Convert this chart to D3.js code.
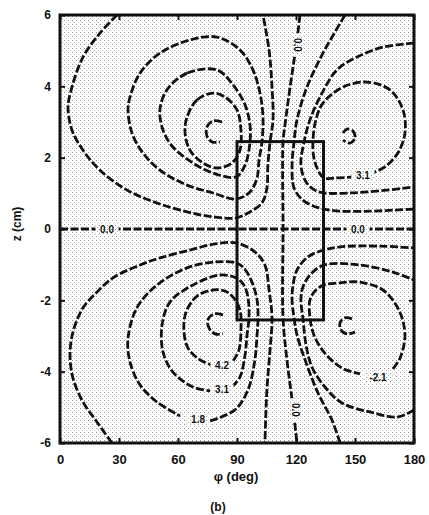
<!DOCTYPE html>
<html>
<head>
<meta charset="utf-8">
<script src="https://cdn.jsdelivr.net/npm/d3@7"></script>
<style>
  body { margin: 0; background: #fff; }
  text { font-family: "Liberation Sans", Arial, sans-serif; font-weight: bold; fill: #111; }
</style>
</head>
<body>
<svg id="chart" width="429" height="515"></svg>
<script>
'use strict';

// axis ticks
const phiTicks = [0, 30, 60, 90, 120, 150, 180];
const zTicks = [-6, -4, -2, 0, 2, 4, 6];

// the rectangle (phi range, z range)
const boxPhi = [90, 134];
const boxZ = [-2.55, 2.45];

// contour lines, [phi (deg), z (cm)]
// upper left lobe
const ul1 = [[29.0,6.0],[20.3,5.49],[11.7,4.82],[6.1,3.98],[4.1,3.42],[6.1,2.77],[11.7,2.21],[20.3,1.65],[34.1,1.09],[49.3,0.73],[64.6,0.48],[77.8,0.34],[89.5,0.31],[96.6,0.48],[102.7,0.73],[105.2,1.15],[105.7,1.79],[106.8,2.44],[108.3,3.06],[107.8,3.98],[106.3,5.02],[103.2,6.0]];
const ul2 = [[66.1,5.30],[50.8,4.93],[40.7,4.37],[35.6,3.70],[34.6,3.34],[36.6,2.69],[42.2,2.13],[50.8,1.65],[64.6,1.23],[77.8,1.01],[89.5,0.84],[96.6,1.04],[100.2,1.43],[101.2,1.93],[102.7,2.44],[103.2,3.14],[101.7,3.81],[98.1,4.46],[91.5,5.02],[79.8,5.38]];
const ul3 = [[79.8,4.46],[64.6,4.37],[54.4,3.90],[50.8,3.34],[52.4,2.77],[57.4,2.30],[67.6,1.85],[77.8,1.57],[89.5,1.46],[94.1,1.79],[96.6,2.44],[96.6,2.92],[94.1,3.48],[88.0,4.04]];
const ul4 = [[77.8,3.81],[69.7,3.62],[64.6,3.14],[63.6,2.69],[66.1,2.21],[72.7,1.85],[79.8,1.71],[87.4,1.85],[91.5,2.21],[92.0,2.77],[90.0,3.34],[83.9,3.70]];
const ul5 = [[82.4,3.00],[77.8,3.03],[74.7,2.86],[74.7,2.61],[77.3,2.44],[81.3,2.44]];
// upper right lobe
const ur1 = [[144.9,6.0],[139.8,5.52],[133.7,4.93],[125.6,3.98],[120.5,3.06],[119.0,2.44],[118.0,1.79],[119.0,1.15],[123.5,0.81],[129.1,0.64],[134.2,0.56],[142.4,0.50],[157.6,0.50],[170.3,0.53],[180,0.56]];
const ur2 = [[180,5.21],[164.2,5.10],[151.0,4.82],[140.8,4.46],[132.2,3.70],[127.1,3.06],[124.1,2.44],[122.5,1.79],[125.1,1.32],[129.6,1.09],[134.2,1.01],[147.4,1.01],[162.7,1.07],[180,1.18]];
const ur3 = [[150.0,1.46],[139.8,1.43],[134.2,1.43],[131.2,1.65],[129.1,1.99],[128.6,2.44],[130.1,3.06],[133.7,3.53],[143.9,3.98],[156.1,4.12],[167.8,3.90],[174.4,3.34],[175.4,2.69],[171.8,2.13],[165.2,1.74],[158.6,1.57]];
const ur4 = [[143.9,2.69],[145.9,2.80],[148.9,2.75],[150.0,2.55],[147.4,2.41],[143.9,2.49]];
// lower left lobe
const ll1 = [[26.4,-6.0],[18.8,-5.41],[11.7,-4.85],[6.6,-4.18],[5.1,-3.53],[6.6,-2.89],[11.7,-2.21],[18.8,-1.77],[26.9,-1.37],[40.7,-1.01],[50.8,-0.81],[66.1,-0.59],[78.8,-0.42],[89.5,-0.39],[99.1,-0.64],[104.2,-1.01],[106.3,-1.71],[107.8,-2.49],[106.8,-3.39],[105.2,-4.51],[104.2,-6.0]];
const ll2 = [[76.3,-5.38],[89.0,-5.07],[95.6,-4.51],[99.1,-3.67],[100.2,-2.97],[100.7,-2.49],[100.2,-1.99],[97.6,-1.49],[93.5,-1.09],[89.5,-0.95],[79.8,-0.92],[64.6,-1.09],[49.3,-1.57],[39.1,-2.21],[34.6,-3.06],[35.6,-3.73],[40.7,-4.37],[49.3,-4.85],[61.0,-5.24]];
const ll3 = [[87.4,-4.43],[91.5,-4.15],[94.1,-3.53],[95.1,-2.97],[96.1,-2.49],[95.6,-1.93],[93.5,-1.57],[89.5,-1.37],[81.3,-1.29],[67.6,-1.57],[55.9,-2.05],[51.9,-2.69],[52.4,-3.45],[57.4,-4.01],[67.6,-4.43],[76.3,-4.54]];
const ll4 = [[88.0,-3.70],[91.0,-3.39],[92.0,-2.83],[91.5,-2.27],[88.0,-1.91],[83.9,-1.74],[77.8,-1.71],[69.7,-1.88],[64.1,-2.33],[63.0,-2.83],[65.1,-3.34],[71.2,-3.67],[76.8,-3.81]];
const ll5 = [[82.9,-2.41],[78.3,-2.38],[75.2,-2.55],[75.8,-2.78],[78.8,-2.94],[82.9,-2.94]];
// lower right lobe
const lr1 = [[142.4,-6.0],[138.3,-5.36],[131.2,-4.60],[124.6,-3.67],[120.5,-2.97],[119.0,-2.49],[118.0,-1.99],[118.5,-1.57],[120.5,-1.15],[126.1,-0.78],[134.2,-0.59],[142.4,-0.50],[162.7,-0.48],[180,-0.53]];
const lr2 = [[180,-5.07],[171.8,-5.27],[157.6,-5.13],[143.4,-4.88],[134.7,-4.43],[128.1,-3.87],[125.1,-3.25],[123.5,-2.49],[122.5,-1.99],[123.5,-1.63],[127.1,-1.29],[134.2,-1.01],[152.5,-1.01],[169.3,-1.21],[180,-1.43]];
const lr3 = [[169.3,-3.92],[172.9,-3.62],[175.4,-2.97],[172.3,-2.27],[164.2,-1.71],[152.5,-1.49],[142.4,-1.51],[134.2,-1.57],[130.1,-1.71],[127.1,-1.99],[127.1,-2.49],[129.1,-2.97],[134.2,-3.45],[143.4,-3.90],[152.5,-4.06]];
const lr4 = [[148.5,-2.52],[144.9,-2.49],[142.4,-2.63],[142.9,-2.83],[145.9,-2.94],[150.0,-2.89]];
// zero contours
const zeroH = [[0,0],[180,0]];
const zeroV = [[122.0,6.0],[120.5,5.30],[117.0,3.98],[114.4,2.92],[113.4,2.44],[113.4,0],[113.4,-2.49],[115.4,-3.67],[118.0,-4.79],[120.5,-6.0]];

const openLines = [ul1, ul5, ur1, ur2, ur3, ur4, ll1, ll2, ll3, ll4, ll5, lr1, lr2, lr3, lr4, zeroH, zeroV];
const closedLines = [ul2, ul3, ul4];

// contour level labels
const labelText = ['0.0', '0.0', '0.0', '0.0', '3.1', '-2.1', '4.2', '3.1', '1.8'];
const labelPhi  = [23.9, 151.5, 121.0, 119.5, 154.0, 161.7, 82.4, 82.4, 70.2];
const labelZ    = [0, 0, 5.16, -5.07, 1.51, -4.15, -3.84, -4.51, -5.35];
const labelVert = [false, false, true, true, false, false, false, false, false];

const svg = d3.select('#chart');
const margin = {left: 60, right: 15, top: 15, bottom: 72};
const W = 429, H = 515;

const x = d3.scaleLinear().domain([0, 180]).range([margin.left, W - margin.right]);
const y = d3.scaleLinear().domain([-6, 6]).range([H - margin.bottom, margin.top]);

// halftone-ish stipple for the plot area
const defs = svg.append('defs');
const pat = defs.append('pattern')
  .attr('id', 'stip')
  .attr('patternUnits', 'userSpaceOnUse')
  .attr('width', 4).attr('height', 4);
pat.append('rect').attr('width', 4).attr('height', 4).attr('fill', '#fff');
pat.append('rect').attr('x', 0).attr('y', 0).attr('width', 1).attr('height', 1).attr('fill', '#939393');
pat.append('rect').attr('x', 2).attr('y', 2).attr('width', 1).attr('height', 1).attr('fill', '#c4c4c4');

defs.append('clipPath').attr('id', 'clip')
  .append('rect')
  .attr('x', x(0)).attr('y', y(6))
  .attr('width', x(180) - x(0)).attr('height', y(-6) - y(6));

svg.append('rect')
  .attr('x', x(0)).attr('y', y(6))
  .attr('width', x(180) - x(0)).attr('height', y(-6) - y(6))
  .attr('fill', 'url(#stip)');

const plot = svg.append('g').attr('clip-path', 'url(#clip)');

const lineOpen = d3.line()
  .x(d => x(d[0])).y(d => y(d[1]))
  .curve(d3.curveCatmullRom.alpha(0.5));
const lineClosed = d3.line()
  .x(d => x(d[0])).y(d => y(d[1]))
  .curve(d3.curveCatmullRomClosed.alpha(0.5));

const styleLine = sel => sel
  .attr('fill', 'none')
  .attr('stroke', '#111')
  .attr('stroke-width', 2.8)
  .attr('stroke-dasharray', '8,2.5');

plot.selectAll('path.open')
  .data(openLines)
  .join('path')
  .attr('class', 'open')
  .attr('d', lineOpen)
  .call(styleLine);

plot.selectAll('path.closed')
  .data(closedLines)
  .join('path')
  .attr('class', 'closed')
  .attr('d', lineClosed)
  .call(styleLine);

// the rectangle
plot.append('rect')
  .attr('x', x(boxPhi[0])).attr('y', y(boxZ[1]))
  .attr('width', x(boxPhi[1]) - x(boxPhi[0]))
  .attr('height', y(boxZ[0]) - y(boxZ[1]))
  .attr('fill', 'none')
  .attr('stroke', '#111')
  .attr('stroke-width', 3);

// contour labels, each cutting a gap in its line
const labels = labelText.map((t, i) => ({t, phi: labelPhi[i], z: labelZ[i], vert: labelVert[i]}));
const lg = plot.selectAll('g.lab')
  .data(labels)
  .join('g')
  .attr('class', 'lab')
  .attr('transform', d => `translate(${x(d.phi)},${y(d.z)})` + (d.vert ? ' rotate(90)' : ''));
lg.append('rect')
  .attr('x', d => -d.t.length * 3.2 - 2)
  .attr('y', -5.5)
  .attr('width', d => d.t.length * 6.4 + 4)
  .attr('height', 11)
  .attr('fill', 'url(#stip)');
lg.append('text')
  .attr('text-anchor', 'middle')
  .attr('dy', '0.35em')
  .style('font-size', '10px')
  .text(d => d.t);

// frame
svg.append('rect')
  .attr('x', x(0)).attr('y', y(6))
  .attr('width', x(180) - x(0)).attr('height', y(-6) - y(6))
  .attr('fill', 'none')
  .attr('stroke', '#111')
  .attr('stroke-width', 3);

// axes with inward ticks
const axB = svg.append('g')
  .attr('transform', `translate(0,${y(-6)})`)
  .call(d3.axisBottom(x).tickValues(phiTicks).tickSize(-5).tickPadding(12).tickFormat(d3.format('d')));
const axL = svg.append('g')
  .attr('transform', `translate(${x(0)},0)`)
  .call(d3.axisLeft(y).tickValues(zTicks).tickSize(-5).tickPadding(9).tickFormat(d => d < 0 ? '-' + (-d) : d));
svg.append('g')
  .attr('transform', `translate(0,${y(6)})`)
  .call(d3.axisTop(x).tickValues(phiTicks).tickSize(-5).tickFormat(''));
svg.append('g')
  .attr('transform', `translate(${x(180)},0)`)
  .call(d3.axisRight(y).tickValues(zTicks).tickSize(-5).tickFormat(''));

svg.selectAll('.domain').remove();
svg.selectAll('.tick line').attr('stroke', '#111').attr('stroke-width', 2);
axB.selectAll('text').style('font-size', '13px').attr('fill', '#111').style('font-family', '"Liberation Sans", Arial, sans-serif').style('font-weight', 'bold');
axL.selectAll('text').style('font-size', '12px').attr('fill', '#111').style('font-family', '"Liberation Sans", Arial, sans-serif').style('font-weight', 'bold');

// axis titles
svg.append('text')
  .attr('x', 236).attr('y', 481)
  .attr('text-anchor', 'middle')
  .style('font-size', '13px')
  .text('φ (deg)');
svg.append('text')
  .attr('transform', 'translate(21,224) rotate(-90)')
  .attr('text-anchor', 'middle')
  .style('font-size', '12px')
  .text('z (cm)');
svg.append('text')
  .attr('x', 218).attr('y', 511)
  .attr('text-anchor', 'middle')
  .style('font-size', '12px')
  .text('(b)');
</script>
</body>
</html>
